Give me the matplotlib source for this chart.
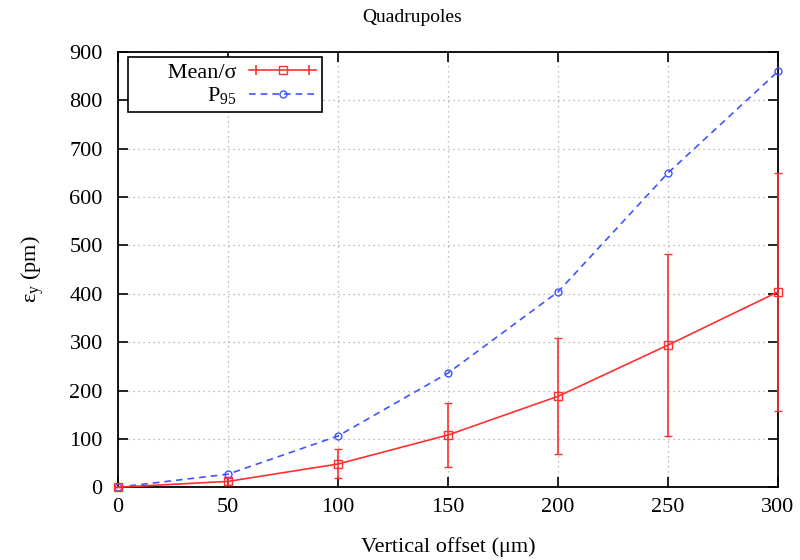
import matplotlib.pyplot as plt
from matplotlib.lines import Line2D
from matplotlib.legend_handler import HandlerLine2D

plt.rcParams['font.family'] = ['Liberation Serif', 'DejaVu Serif']
plt.rcParams['mathtext.fontset'] = 'custom'
plt.rcParams['mathtext.rm'] = 'Liberation Serif'
plt.rcParams['mathtext.it'] = 'Liberation Serif:italic'

# Data
offset = [0, 50, 100, 150, 200, 250, 300]
mean_eps = [0, 12, 48, 108, 188, 294, 404]
sigma_eps = [0, 8, 30, 66, 120, 188, 246]
p95_eps = [0, 27, 106, 236, 404, 650, 860]

red = '#ff3030'
blue = '#3f55ff'

fig = plt.figure(figsize=(8, 5.6), dpi=100)
ax = fig.add_axes([0.1475, 0.130, 0.825, 0.777])

ax.errorbar(offset, mean_eps, yerr=sigma_eps, color=red, lw=1.2,
            marker='s', markersize=6, markerfacecolor='none',
            markeredgecolor=red, capsize=3, elinewidth=1.2,
            clip_on=False, zorder=3)
ax.plot(offset, p95_eps, color=blue, lw=1.2, linestyle=(0, (4, 3)),
        marker='o', markersize=5, markerfacecolor='none',
        markeredgecolor=blue, clip_on=False, zorder=3)

ax.set_xlim(0, 300)
ax.set_ylim(0, 900)
ax.set_xticks(range(0, 301, 50))
ax.set_yticks(range(0, 901, 100))
ax.tick_params(direction='in', length=7, width=1.2, labelsize=16,
               top=True, right=True)
ax.tick_params(axis='x', pad=8)
ax.tick_params(axis='y', pad=11)
ax.grid(True, color='#a8a8a8', linestyle=(0, (1, 3)), lw=0.9)
for s in ax.spines.values():
    s.set_linewidth(1.3)

ax.set_xlabel('Vertical offset (\u03bcm)', fontsize=16, labelpad=14)
ax.set_ylabel('\u03b5$_\\mathrm{y}$ (pm)', fontsize=16, labelpad=17)
fig.text(412 / 800, 1 - 18 / 560, 'Quadrupoles', fontsize=14,
         ha='center', va='center')

# gnuplot-style legend: text first, horizontal errorbar sample
mean_line = Line2D([], [], color=red, lw=1.2, marker='s', markersize=6,
                   markerfacecolor='none', markeredgecolor=red)
mean_caps = Line2D([], [], color=red, lw=0, marker='|', markersize=7,
                   markeredgewidth=1.2)
p95_line = Line2D([], [], color=blue, lw=1.2, linestyle=(0, (4, 3)),
                  marker='o', markersize=5, markerfacecolor='none',
                  markeredgecolor=blue)
leg = ax.legend([(mean_line, mean_caps), p95_line],
                ['      Mean/\u03c3', 'P$_{95}$'],
                handler_map={mean_caps: HandlerLine2D(numpoints=2)},
                loc='upper left', bbox_to_anchor=(10 / 660, 1 - 5 / 435),
                borderaxespad=0, markerfirst=False, fontsize=16,
                fancybox=False, framealpha=1, edgecolor='black',
                handlelength=3.0, handletextpad=0.6, labelspacing=0.1,
                borderpad=0.25)
leg.get_frame().set_linewidth(1.2)
for t in leg.get_texts():
    t.set_ha('right')

fig.savefig('out.png', dpi=100)
